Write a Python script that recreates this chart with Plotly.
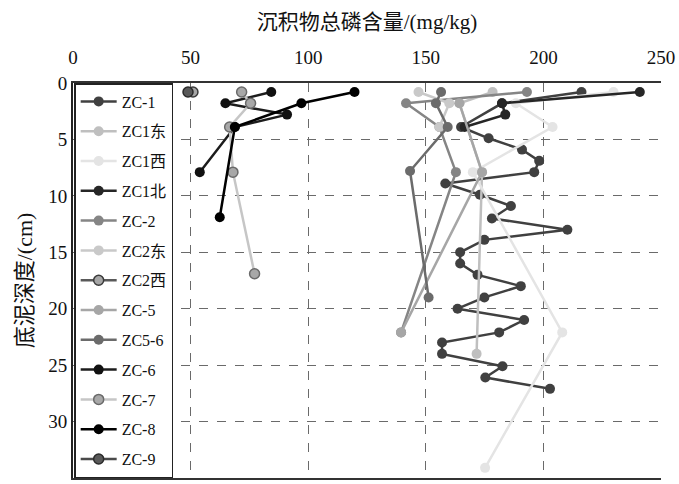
import plotly.graph_objects as go

# ---- data ----
names = ["ZC-1", "ZC1东", "ZC1西", "ZC1北", "ZC-2", "ZC2东", "ZC2西",
         "ZC-5", "ZC5-6", "ZC-6", "ZC-7", "ZC-8", "ZC-9"]

zc1_tp = [216.2, 182.4, 165.0, 176.7, 190.9, 198.2, 196.1, 158.3, 173.0, 186.2,
          178.1, 210.2, 174.9, 164.6, 164.6, 172.0, 190.4, 174.9, 163.5, 191.8,
          181.2, 156.9, 156.9, 182.6, 175.3, 202.8]
zc1_d = [0.8, 1.8, 3.9, 4.9, 5.9, 6.9, 7.9, 8.9, 9.9, 10.9,
         12.0, 13.0, 13.9, 15.0, 16.0, 17.0, 18.0, 19.0, 20.0, 21.0,
         22.1, 23.0, 24.0, 25.1, 26.1, 27.1]

zc1e_tp = [178.4, 164.3, 173.9, 171.6]
zc1e_d = [0.8, 1.8, 7.9, 24.0]

zc1w_tp = [229.8, 188.3, 203.9, 170.0, 208.0, 175.2]
zc1w_d = [0.8, 1.8, 3.9, 7.9, 22.1, 34.1]

zc1n_tp = [241.0, 182.4, 183.8, 166.5]
zc1n_d = [0.8, 1.8, 2.8, 3.9]

zc2_tp = [193.0, 141.6, 155.8, 162.8, 139.5]
zc2_d = [0.8, 1.8, 3.9, 7.9, 22.1]

zc2e_tp = [146.9, 160.0, 155.8]
zc2e_d = [0.8, 1.8, 3.9]

zc2w_tp = [51.0]
zc2w_d = [0.8]

zc5_tp = [164.3, 173.9, 139.5]
zc5_d = [1.8, 7.9, 22.1]

zc56_tp = [156.5, 154.3, 159.3, 143.3, 151.2]
zc56_d = [0.8, 1.8, 3.9, 7.8, 19.0]

zc6_tp = [84.3, 64.8, 91.0, 68.8, 53.9]
zc6_d = [0.8, 1.8, 2.8, 3.9, 7.9]

zc7_tp = [71.7, 75.5, 66.6, 68.0, 77.2]
zc7_d = [0.8, 1.8, 3.9, 7.9, 16.9]

zc8_tp = [119.7, 97.1, 68.8, 62.4]
zc8_d = [0.8, 1.8, 3.9, 11.9]

zc9_tp = [48.9]
zc9_d = [0.8]

x_ticks = [0, 50, 100, 150, 200, 250]
y_ticks = [0, 5, 10, 15, 20, 25, 30, 35]

series_x = [zc1_tp, zc1e_tp, zc1w_tp, zc1n_tp, zc2_tp, zc2e_tp, zc2w_tp,
            zc5_tp, zc56_tp, zc6_tp, zc7_tp, zc8_tp, zc9_tp]
series_y = [zc1_d, zc1e_d, zc1w_d, zc1n_d, zc2_d, zc2e_d, zc2w_d,
            zc5_d, zc56_d, zc6_d, zc7_d, zc8_d, zc9_d]

# ---- styles ----
line_colors = ["#404040", "#bfbfbf", "#e4e4e4", "#262626", "#858585", "#c9c9c9", "#595959",
               "#a6a6a6", "#6b6b6b", "#1c1c1c", "#c6c6c6", "#000000", "#4a4a4a"]
marker_colors = ["#404040", "#bfbfbf", "#e4e4e4", "#262626", "#858585", "#c9c9c9", "#a6a6a6",
                 "#a6a6a6", "#6b6b6b", "#111111", "#a8a8a8", "#000000", "#595959"]
marker_lines = [None, None, None, None, None, None, "#3a3a3a",
                None, None, None, "#6a6a6a", None, "#2a2a2a"]

serif = "'Times New Roman', 'Liberation Serif', 'Noto Sans CJK SC', serif"

fig = go.Figure()
for i, nm in enumerate(names):
    ml = marker_lines[i]
    fig.add_trace(go.Scatter(
        x=series_x[i], y=series_y[i], name=nm, mode="lines+markers",
        legendgroup=nm,
        line=dict(color=line_colors[i], width=2.5),
        marker=dict(size=10, color=marker_colors[i],
                    line=dict(color=ml if ml else marker_colors[i], width=1.5 if ml else 0)),
    ))

fig.update_layout(
    width=679, height=484,
    margin=dict(l=73, r=17, t=83, b=4),
    paper_bgcolor="white", plot_bgcolor="white",
    font=dict(family=serif, size=17, color="#111111"),
    showlegend=True,
    legend=dict(
        x=0.002, y=1.0, xanchor="left", yanchor="top",
        bgcolor="white", bordercolor="#222222", borderwidth=1.5,
        font=dict(family=serif, size=16, color="#111111"),
        traceorder="grouped", tracegroupgap=6, itemwidth=36,
    ),
    xaxis=dict(
        side="top", range=[0, 250], tickvals=x_ticks,
        title=dict(text="沉积物总磷含量/(mg/kg)", font=dict(family=serif, size=21), standoff=11),
        showgrid=True, gridcolor="#6a6a6a", griddash="dash", gridwidth=1.2,
        showline=True, linecolor="#333333", linewidth=1.5, mirror=True,
        ticks="", zeroline=False, tickfont=dict(family=serif, size=19),
        ticklabelstandoff=10,
    ),
    yaxis=dict(
        range=[35, 0], tickvals=y_ticks,
        title=dict(text="底泥深度/(cm)", font=dict(family=serif, size=22), standoff=10),
        showgrid=True, gridcolor="#6a6a6a", griddash="dash", gridwidth=1.2,
        showline=True, linecolor="#222222", linewidth=2,
        ticks="", zeroline=False, tickfont=dict(family=serif, size=19),
    ),
)

fig.write_html("out.html")
